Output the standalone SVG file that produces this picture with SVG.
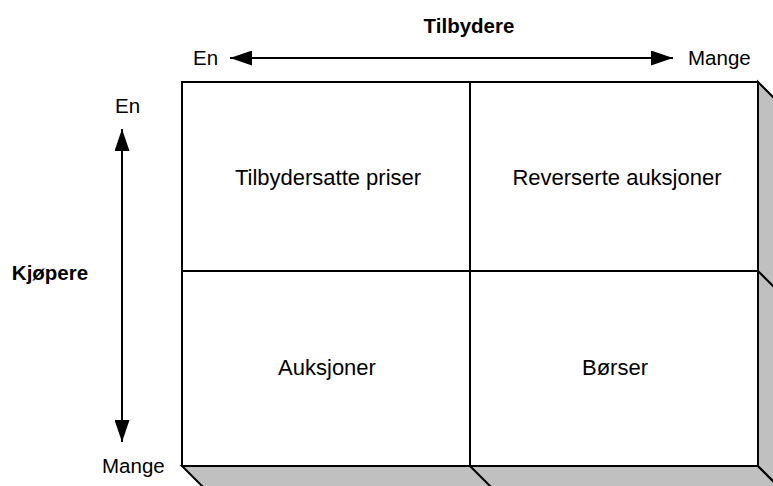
<svg xmlns="http://www.w3.org/2000/svg" width="773" height="486" viewBox="0 0 773 486">
<style>
.t{font-family:"Liberation Sans",Arial,sans-serif;fill:#000}
.c{font-size:22px;text-anchor:middle}
.l{font-size:20.5px}
.b{font-size:20.5px;font-weight:bold;text-anchor:middle}
.ln{stroke:#000;stroke-width:2;fill:none}
.sh{fill:#c0c0c0;stroke:#000;stroke-width:2;stroke-linejoin:miter}
</style>
<defs>
<marker id="ah" viewBox="0 0 22 15" refX="22" refY="7.5" markerWidth="22" markerHeight="15" markerUnits="userSpaceOnUse" orient="auto-start-reverse">
<path d="M0,0 L22,7.5 L0,15 Z" fill="#000"/>
</marker>
</defs>
<rect width="773" height="486" fill="#fff"/>
<g id="shadow">
<polygon class="sh" points="182,466 758,466 784,492 208,492"/>
<polygon class="sh" points="758,82 784,108 784,492 758,466"/>
<line class="ln" x1="470" y1="466" x2="496" y2="492"/>
<line class="ln" x1="758" y1="271" x2="784" y2="297"/>
</g>
<g id="cell-tilbydersatte">
<rect x="182" y="82" width="288" height="189" fill="#fff" class="ln"/>
<text class="t c" x="328" y="185">Tilbydersatte priser</text>
</g>
<g id="cell-reverserte">
<rect x="470" y="82" width="288" height="189" fill="#fff" class="ln"/>
<text class="t c" x="617" y="185">Reverserte auksjoner</text>
</g>
<g id="cell-auksjoner">
<rect x="182" y="271" width="288" height="195" fill="#fff" class="ln"/>
<text class="t c" x="327" y="375">Auksjoner</text>
</g>
<g id="cell-borser">
<rect x="470" y="271" width="288" height="195" fill="#fff" class="ln"/>
<text class="t c" x="615" y="375">Børser</text>
</g>
<g id="connectors">
<line x1="230" y1="58" x2="673" y2="58" stroke="#000" stroke-width="2" marker-start="url(#ah)" marker-end="url(#ah)"/>
<line x1="122" y1="129" x2="122" y2="442" stroke="#000" stroke-width="2" marker-start="url(#ah)" marker-end="url(#ah)"/>
</g>
<g id="labels">
<text class="t b" x="469" y="33">Tilbydere</text>
<text class="t b" x="50" y="280">Kjøpere</text>
<text class="t l" x="193" y="65">En</text>
<text class="t l" x="688" y="65">Mange</text>
<text class="t l" x="115" y="113">En</text>
<text class="t l" x="102" y="473">Mange</text>
</g>
</svg>
